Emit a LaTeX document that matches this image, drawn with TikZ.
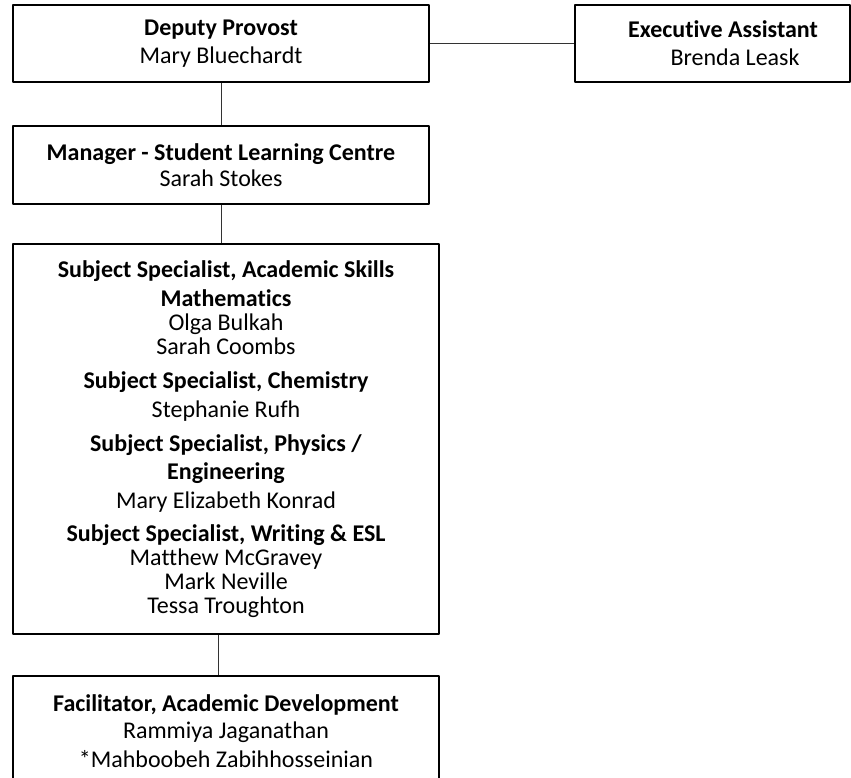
\documentclass[tikz,border=0pt]{standalone}
\usepackage{fontspec}
\setmainfont[Ligatures=NoCommon]{Carlito}
\tikzset{
	post/.style={draw, line width=1.5pt, align=center, inner sep=0pt, font=\fontsize{24}{24}\selectfont},
	link/.style={line width=0.9pt, draw=black!80},
}
\begin{document}
\begin{tikzpicture}[x=1pt, y=-1pt, line join=round]
			\useasboundingbox (0,0) rectangle (851,778);
			\clip (0,0) rectangle (851,778);
			\node[post, minimum width=416pt, minimum height=77pt] (dep) at (221,43.5) {\textbf{Deputy Provost}\\[4pt] Mary Bluechardt};
			\node[post, minimum width=275pt, minimum height=77pt] (exec) at (712.5,43.5) {\hspace*{21pt}\textbf{Executive Assistant}\\[4pt] \hspace*{45pt}Brenda Leask};
			\node[post, minimum width=416pt, minimum height=78pt] (mgr) at (221,165) {\textbf{Manager - Student Learning Centre}\\[2pt] Sarah Stokes};
			\node[post, minimum width=426pt, minimum height=390pt] (subj) at (226,439) {\textbf{Subject Specialist, Academic Skills}\\[5pt]
				\textbf{Mathematics}\\ Olga Bulkah\\ Sarah Coombs\\[10pt]
				\textbf{Subject Specialist, Chemistry}\\[5pt] Stephanie Rufh\\[10pt]
				\textbf{Subject Specialist, Physics /}\\[4pt] \textbf{Engineering}\\[5pt] Mary Elizabeth Konrad\\[9pt]
				\textbf{Subject Specialist, Writing \& ESL}\\ Matthew McGravey\\ Mark Neville\\ Tessa Troughton};
			\node[post, minimum width=426pt, minimum height=110pt] (fac) at (226,731) {\textbf{Facilitator, Academic Development}\\[3pt] Rammiya Jaganathan\\[5pt] *Mahboobeh Zabihhosseinian};
			% links
			\draw[link] (dep.east) -- (exec.west);
			\draw[link] (dep.south) -- (mgr.north);
			\draw[link] (mgr.south) -- (mgr.south |- subj.north);
			\draw[link] ([xshift=-8pt]subj.south) -- ([xshift=-8pt]fac.north);
\end{tikzpicture}
\end{document}
